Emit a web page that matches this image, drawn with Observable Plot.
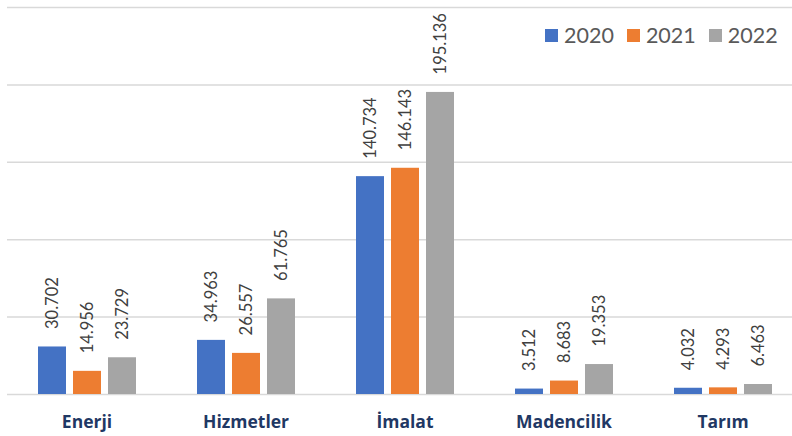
<!DOCTYPE html>
<html>
<head>
<meta charset="utf-8">
<script src="https://cdn.jsdelivr.net/npm/d3@7"></script>
<script src="https://cdn.jsdelivr.net/npm/@observablehq/plot@0.6"></script>
<style>
  html, body { margin: 0; padding: 0; background: #fff; }
  #wrap { position: relative; width: 792px; height: 436px; font-family: Lato, sans-serif; }
  #legend { position: absolute; top: 22px; left: 545px; display: flex; align-items: center; font-size: 21.5px; color: #595959; }
  #legend .item { display: flex; align-items: center; margin-right: 13px; }
  #legend .sw { width: 13px; height: 13px; margin-right: 6px; }
</style>
</head>
<body>
<div id="wrap"><div id="legend"></div></div>
<script>
const categories = ["Enerji", "Hizmetler", "İmalat", "Madencilik", "Tarım"];
const years = ["2020", "2021", "2022"];
const values2020 = [30.702, 34.963, 140.734, 3.512, 4.032];
const values2021 = [14.956, 26.557, 146.143, 8.683, 4.293];
const values2022 = [23.729, 61.765, 195.136, 19.353, 6.463];
const colors = ["#4472C4", "#ED7D31", "#A5A5A5"];
const yTicks = [0, 50, 100, 150, 200, 250];

const series = [values2020, values2021, values2022];
const data = [];
categories.forEach((c, i) => years.forEach((y, j) => data.push({cat: c, year: y, value: series[j][i]})));

const chart = Plot.plot({
  width: 792,
  height: 436,
  marginLeft: 7,
  marginRight: 0,
  marginTop: 7,
  marginBottom: 42,
  style: {fontFamily: "Lato, sans-serif", background: "#fff"},
  fx: {domain: categories, range: [7, 802], padding: 0, label: null},
  x: {domain: years, paddingInner: 0.2, paddingOuter: 0.871, axis: null},
  y: {domain: [0, 250], axis: null},
  color: {domain: years, range: colors},
  marks: [
    Plot.ruleY(yTicks, {stroke: "#D9D9D9", strokeWidth: 1.5}),
    Plot.barY(data, {fx: "cat", x: "year", y: "value", fill: "year"}),
    Plot.text(data, {fx: "cat", x: "year", y: "value", text: d => d.value.toFixed(3), rotate: -90, textAnchor: "start", dy: -18, fontSize: 16.5, fill: "#404040"}),
    Plot.axisFx({anchor: "bottom", tickSize: 0, tickPadding: 21.5, fontSize: 17.5, fontWeight: "bold", fontFamily: "Open Sans, sans-serif", fill: "#1F3864", label: null})
  ]
});
document.getElementById("wrap").prepend(chart);

const legend = document.getElementById("legend");
years.forEach((y, i) => {
  const item = document.createElement("div");
  item.className = "item";
  item.innerHTML = `<div class="sw" style="background:${colors[i]}"></div><span>${y}</span>`;
  legend.appendChild(item);
});
</script>
</body>
</html>
